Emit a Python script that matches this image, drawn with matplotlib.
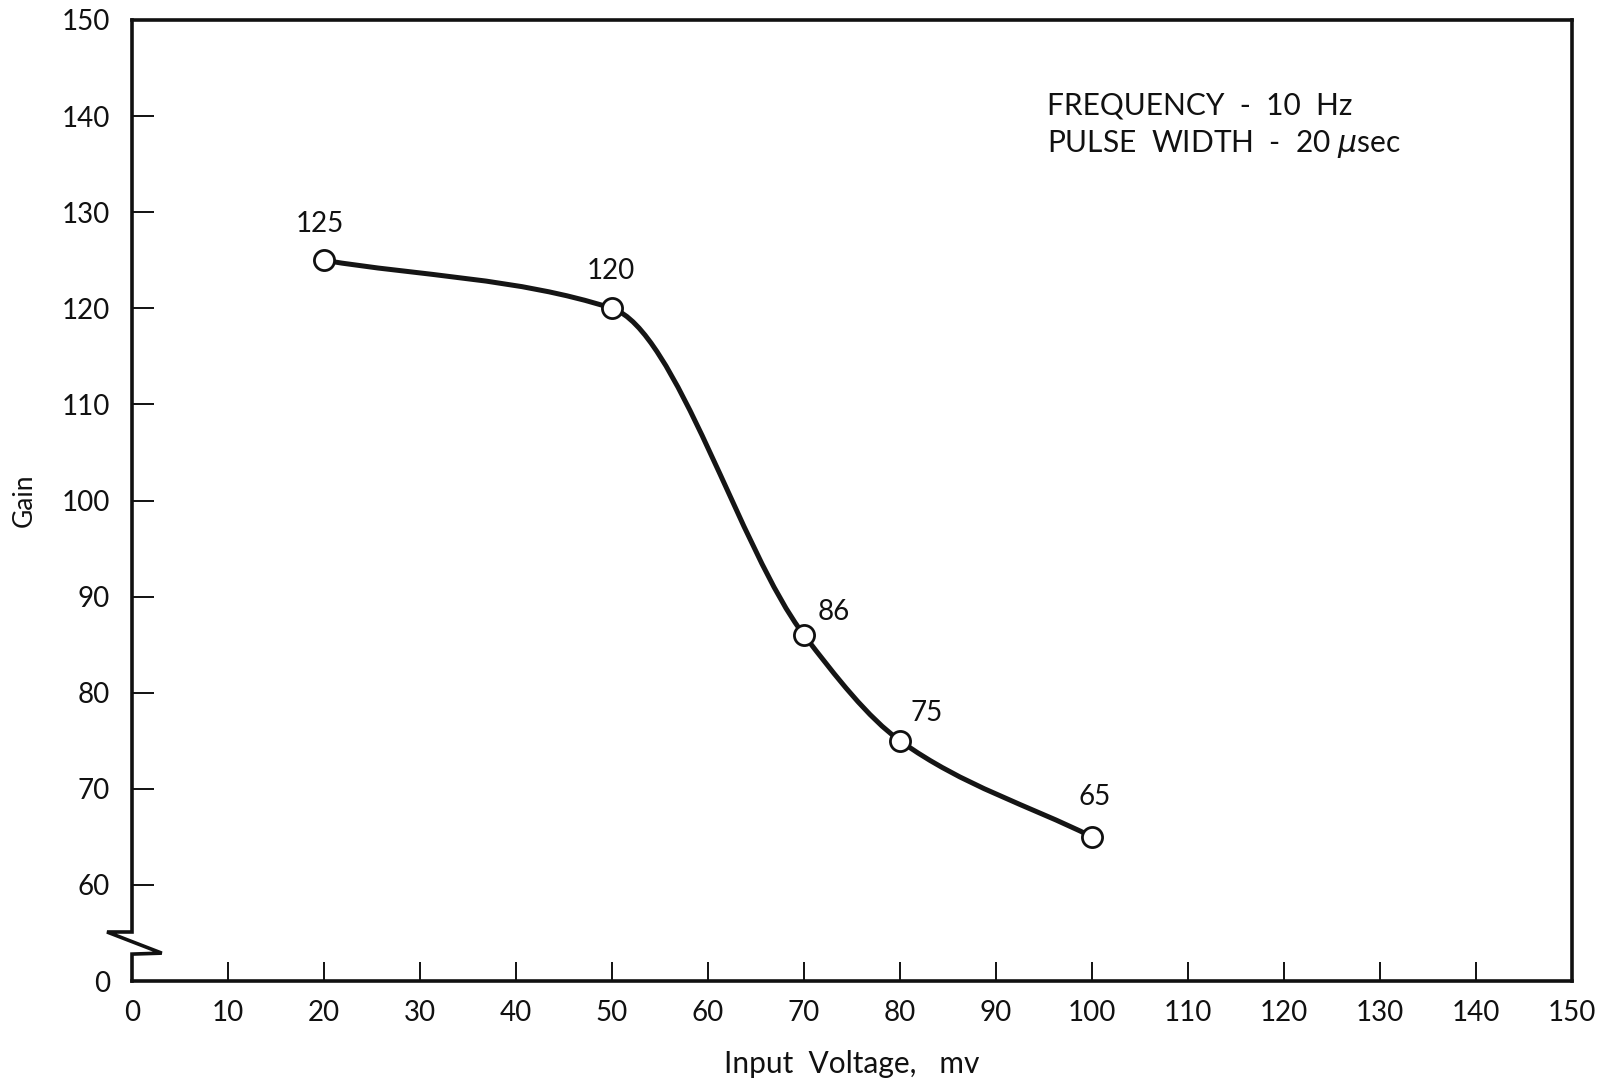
import numpy as np
import matplotlib
matplotlib.use("Agg")
import matplotlib.pyplot as plt
from matplotlib.path import Path
from matplotlib.patches import PathPatch

plt.rcParams['font.family'] = ['Lato', 'DejaVu Sans']
plt.rcParams['mathtext.fontset'] = 'dejavusans'

# data
voltage = [20, 50, 70, 80, 100]
gain = [125, 120, 86, 75, 65]
point_labels = ["125", "120", "86", "75", "65"]
label_dx = [-0.4, -0.1, 3.1, 2.8, 0.3]
label_dy = [3.8, 3.9, 2.4, 2.9, 4.1]

xticks = list(range(0, 151, 10))
yticks = [50, 60, 70, 80, 90, 100, 110, 120, 130, 140, 150]
yticklabels = ["0", "60", "70", "80", "90", "100", "110", "120", "130", "140", "150"]


def smooth_path(xs, ys):
    # monotone hermite curve through the points, drawn as bezier segments
    xs = np.asarray(xs, float)
    ys = np.asarray(ys, float)
    h = np.diff(xs)
    d = np.diff(ys) / h
    m = np.zeros(len(xs))
    m[0] = d[0]
    m[-1] = d[-1]
    for k in range(1, len(xs) - 1):
        w1 = 2 * h[k] + h[k - 1]
        w2 = h[k] + 2 * h[k - 1]
        m[k] = (w1 + w2) / (w1 / d[k - 1] + w2 / d[k])
    verts = [(xs[0], ys[0])]
    codes = [Path.MOVETO]
    for i in range(len(h)):
        verts.append((xs[i] + h[i] / 3, ys[i] + m[i] * h[i] / 3))
        verts.append((xs[i + 1] - h[i] / 3, ys[i + 1] - m[i + 1] * h[i] / 3))
        verts.append((xs[i + 1], ys[i + 1]))
        codes += [Path.CURVE4] * 3
    return Path(verts, codes)


fig = plt.figure(figsize=(16.1, 10.83), dpi=100)
ax = fig.add_axes([132 / 1610, 1 - 981 / 1083, 1440 / 1610, 961 / 1083])

ax.set_xlim(0, 150)
ax.set_ylim(50, 150)

curve = PathPatch(smooth_path(voltage, gain), facecolor='none', edgecolor='#151515',
                  lw=3.6, transform=ax.transData, zorder=2)
ax.add_patch(curve)
ax.plot(voltage, gain, 'o', ms=14.5, mfc='white', mec='#111111', mew=2.0, zorder=3)

for x, y, t, dx, dy in zip(voltage, gain, point_labels, label_dx, label_dy):
    ax.text(x + dx, y + dy, t, ha='center', va='center', fontsize=20, color='#111111')

ax.text(95.3, 141.1, "FREQUENCY  -  10  Hz", fontsize=21.5, va='center', ha='left', color='#111111')
ax.text(95.3, 137.1, "PULSE  WIDTH  -  20 $\\mu$sec", fontsize=21.5, va='center', ha='left', color='#111111')

# spines: left one drawn by hand with the axis break
for s in ['top', 'right', 'bottom']:
    ax.spines[s].set_linewidth(2.6)
    ax.spines[s].set_color('#111111')
ax.spines['left'].set_visible(False)
brk_x = [0, 0, -2.6, 3.1, 0, 0]
brk_y = [150, 55.1, 55.1, 52.9, 52.8, 50]
ax.plot(brk_x, brk_y, color='#111111', lw=2.6, clip_on=False, solid_joinstyle='miter', zorder=4)

ax.set_xticks(xticks)
ax.set_xticklabels([str(v) for v in xticks])
ax.set_yticks(yticks)
ax.set_yticklabels(yticklabels)
ax.tick_params(axis='x', direction='in', length=14, width=1.4, pad=14, labelsize=20, colors='#111111')
ax.tick_params(axis='y', direction='in', length=16, width=1.4, pad=16, labelsize=20, colors='#111111')
for t in ax.yaxis.get_major_ticks():
    if t.get_loc() in (50, 150):
        t.tick1line.set_visible(False)

ax.set_xlabel("Input  Voltage,   mv", fontsize=21.5, color='#111111')
ax.xaxis.set_label_coords(0.5, -0.072)
ax.set_ylabel("Gain", fontsize=19, color='#111111')
ax.yaxis.set_label_coords(-0.066, 0.5)

fig.savefig("out.png", dpi=100)
